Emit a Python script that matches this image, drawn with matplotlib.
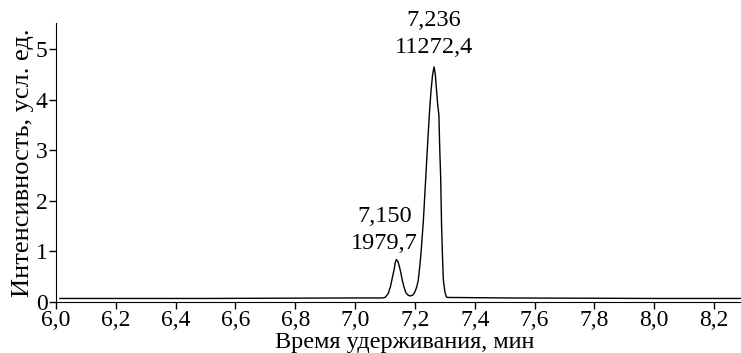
import matplotlib.pyplot as plt

plt.rcParams['font.family'] = ['Liberation Serif', 'DejaVu Serif']

# retention time (min) and intensity (arb. units)
time = [6.013, 6.5, 7.0, 7.09, 7.10, 7.11, 7.118, 7.125, 7.130, 7.134, 7.138,
        7.143, 7.148, 7.152, 7.158, 7.163, 7.170, 7.178, 7.186, 7.193, 7.200,
        7.206, 7.211, 7.216, 7.220, 7.228, 7.236, 7.243, 7.249, 7.254, 7.259,
        7.264, 7.268, 7.272, 7.276, 7.280, 7.283, 7.286, 7.289, 7.292, 7.295,
        7.300, 7.305, 7.31, 7.5, 8.0, 8.29]
intensity = [0.07, 0.07, 0.08, 0.08, 0.09, 0.16, 0.30, 0.50, 0.63, 0.78, 0.84,
             0.80, 0.70, 0.60, 0.42, 0.30, 0.18, 0.13, 0.12, 0.14, 0.20,
             0.30, 0.43, 0.70, 0.95, 1.6, 2.45, 3.2, 3.8, 4.2, 4.5,
             4.65, 4.5, 4.2, 3.9, 3.7, 3.0, 2.45, 1.5, 0.9, 0.43,
             0.2, 0.1, 0.09, 0.08, 0.07, 0.07]

peak_rt = [7.150, 7.236]
peak_area = ['1979,7', '11272,4']
label_x = [7.098, 7.263]
label_y = [0.95, 4.82]

xticks = [6.0, 6.2, 6.4, 6.6, 6.8, 7.0, 7.2, 7.4, 7.6, 7.8, 8.0, 8.2]
yticks = [0, 1, 2, 3, 4, 5]

fig = plt.figure(figsize=(7.41, 3.53), dpi=100)
ax = fig.add_axes([0.0756, 0.1445, 0.9244, 0.7905])

ax.plot(time, intensity, color='black', lw=1.0)

for rt, area, lx, ly in zip(peak_rt, peak_area, label_x, label_y):
    ax.text(lx, ly, ('%.3f' % rt).replace('.', ',') + '\n' + area,
            ha='center', va='bottom', fontsize=17.5, linespacing=1.4)

ax.set_xlim(6.0, 8.29)
ax.set_ylim(0, 5.52)
ax.set_xticks(xticks)
ax.set_xticklabels([('%.1f' % t).replace('.', ',') for t in xticks])
ax.set_yticks(yticks)
ax.tick_params(direction='out', length=5, width=1, labelsize=17)
ax.tick_params(axis='x', pad=1)
ax.tick_params(axis='y', pad=1)
ax.spines['top'].set_visible(False)
ax.spines['right'].set_visible(False)
ax.set_xlabel('Время удерживания, мин', fontsize=17.5, va='bottom')
ax.xaxis.set_label_coords(0.509, -0.182)
ax.set_ylabel('Интенсивность, усл. ед.', fontsize=19, labelpad=1)

fig.savefig('out.png', dpi=100)
